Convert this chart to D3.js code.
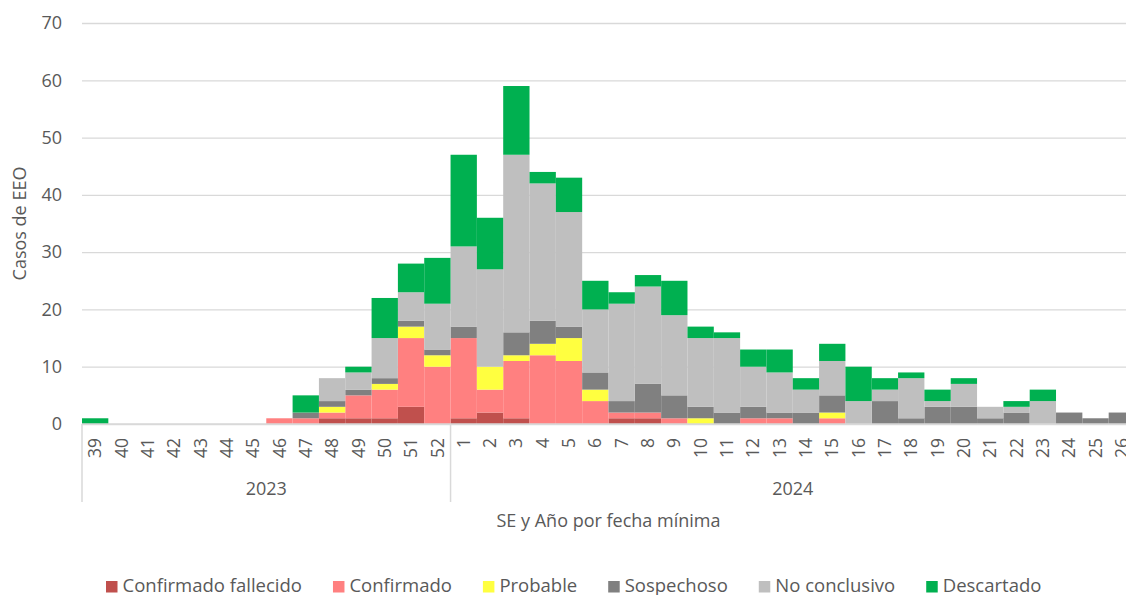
<html>
	<head>
		<meta content="text/html;charset=utf-8" http-equiv="Content-Type">
		<script src="https://d3js.org/d3.v7.min.js"></script>
		<style>
		body { margin: 0; background: #fff; }
		text { font-family: "Open Sans", "Noto Sans", sans-serif; fill: #595959; }
		</style>
	</head>
	<body>
		<svg id="chart"></svg>
		<script>

// semanas epidemiologicas (2023: 39-52, 2024: 1-26)
var weeks = ["39","40","41","42","43","44","45","46","47","48","49","50","51","52",
	"1","2","3","4","5","6","7","8","9","10","11","12","13","14","15","16","17","18","19","20","21","22","23","24","25","26"];
var years = ["2023", "2024"];
var yearSize = [14, 26];
var yTicks = [0, 10, 20, 30, 40, 50, 60, 70];

var seriesNames = ["Confirmado fallecido", "Confirmado", "Probable", "Sospechoso", "No conclusivo", "Descartado"];
var seriesColors = ["#C0504D", "#FF8080", "#FFFF40", "#808080", "#BFBFBF", "#00B050"];

var confFallecido = [0,0,0,0,0,0,0,0,0,1,1,1,3,0,
	1,2,1,0,0,0,1,1,0,0,0,0,0,0,0,0,0,0,0,0,0,0,0,0,0,0];
var confirmado = [0,0,0,0,0,0,0,1,1,1,4,5,12,10,
	14,4,10,12,11,4,1,1,1,0,0,1,1,0,1,0,0,0,0,0,0,0,0,0,0,0];
var probable = [0,0,0,0,0,0,0,0,0,1,0,1,2,2,
	0,4,1,2,4,2,0,0,0,1,0,0,0,0,1,0,0,0,0,0,0,0,0,0,0,0];
var sospechoso = [0,0,0,0,0,0,0,0,1,1,1,1,1,1,
	2,0,4,4,2,3,2,5,4,2,2,2,1,2,3,0,4,1,3,3,1,2,0,2,1,2];
var noConclusivo = [0,0,0,0,0,0,0,0,0,4,3,7,5,8,
	14,17,31,24,20,11,17,17,14,12,13,7,7,4,6,4,2,7,1,4,2,1,4,0,0,0];
var descartado = [1,0,0,0,0,0,0,0,3,0,1,7,5,8,
	16,9,12,2,6,5,2,2,6,2,1,3,4,2,3,6,2,1,2,1,0,1,2,0,0,0];

var seriesValues = [confFallecido, confirmado, probable, sospechoso, noConclusivo, descartado];

page();

function page(){
	var W = 1126, H = 595;
	var left = 82, right = 1135, top = 23, bottom = 424;

	var svg = d3.select("#chart").attr("width", W).attr("height", H);

	var rows = weeks.map(function(w, i){
		var r = { i: i };
		seriesNames.forEach(function(s, k){ r[s] = seriesValues[k][i]; });
		return r;
	});
	var stacked = d3.stack().keys(seriesNames)(rows);

	var x = d3.scaleBand().domain(d3.range(weeks.length)).range([left, right]).padding(0);
	var y = d3.scaleLinear().domain([0, 70]).range([bottom, top]);

	// gridlines
	svg.append("g")
		.attr("transform", "translate(" + left + ",0)")
		.call(d3.axisLeft(y).tickValues(yTicks).tickSize(-(W - left)).tickFormat(""))
		.call(function(g){
			g.select(".domain").remove();
			g.selectAll("line").attr("stroke", "#D9D9D9").attr("stroke-width", 1.3);
		});

	// y labels
	svg.append("g")
		.attr("transform", "translate(" + left + ",0)")
		.call(d3.axisLeft(y).tickValues(yTicks).tickSize(0).tickPadding(20))
		.call(function(g){
			g.select(".domain").remove();
			g.selectAll("text").style("font-size", "18px").attr("fill", "#595959")
				.style("font-family", "'Open Sans', sans-serif");
		});

	// bars
	svg.append("g").selectAll("g")
		.data(stacked)
		.join("g")
		.attr("fill", function(d, k){ return seriesColors[k]; })
		.selectAll("rect")
		.data(function(d){ return d; })
		.join("rect")
		.attr("x", function(d){ return x(d.data.i); })
		.attr("width", x.bandwidth())
		.attr("y", function(d){ return y(d[1]); })
		.attr("height", function(d){ return y(d[0]) - y(d[1]); });

	// baseline
	svg.append("line")
		.attr("x1", left).attr("x2", W)
		.attr("y1", y(0)).attr("y2", y(0))
		.attr("stroke", "#D9D9D9").attr("stroke-width", 1.5);

	// x week labels
	svg.append("g")
		.attr("transform", "translate(0," + bottom + ")")
		.call(d3.axisBottom(x).tickSize(0).tickFormat(function(i){ return weeks[i]; }))
		.call(function(g){
			g.select(".domain").remove();
			g.selectAll("text")
				.style("font-size", "17.5px").attr("fill", "#595959")
				.style("font-family", "'Open Sans', sans-serif")
				.attr("text-anchor", "end")
				.attr("transform", "translate(0,14) rotate(-90)")
				.attr("x", 0).attr("y", 0).attr("dy", "0.35em");
		});

	// year groups
	var start = 0;
	var dividers = [left];
	years.forEach(function(yr, k){
		var x0 = x(start), x1 = x(start + yearSize[k] - 1) + x.bandwidth();
		svg.append("text")
			.attr("x", (x0 + x1) / 2).attr("y", 495)
			.attr("text-anchor", "middle")
			.style("font-size", "18px")
			.text(yr);
		start += yearSize[k];
		dividers.push(x1);
	});
	svg.selectAll(".divider")
		.data(dividers)
		.join("line")
		.attr("class", "divider")
		.attr("x1", function(d){ return d; }).attr("x2", function(d){ return d; })
		.attr("y1", bottom).attr("y2", 502)
		.attr("stroke", "#D9D9D9").attr("stroke-width", 1.5);

	// axis titles
	svg.append("text")
		.attr("x", (left + right) / 2).attr("y", 527)
		.attr("text-anchor", "middle")
		.style("font-size", "18px")
		.text("SE y Año por fecha mínima");
	svg.append("text")
		.attr("transform", "translate(26," + ((top + bottom) / 2) + ") rotate(-90)")
		.attr("text-anchor", "middle")
		.style("font-size", "18px")
		.text("Casos de EEO");

	// legend
	var lx = 106;
	var legend = svg.append("g");
	seriesNames.forEach(function(s, k){
		legend.append("rect")
			.attr("x", lx).attr("y", 581)
			.attr("width", 11.5).attr("height", 11.5)
			.attr("fill", seriesColors[k]);
		var t = legend.append("text")
			.attr("x", lx + 16.5).attr("y", 591.5)
			.style("font-size", "18.5px")
			.text(s);
		lx += 16.5 + t.node().getComputedTextLength() + 31;
	});
}

		</script>
	</body>
</html>
